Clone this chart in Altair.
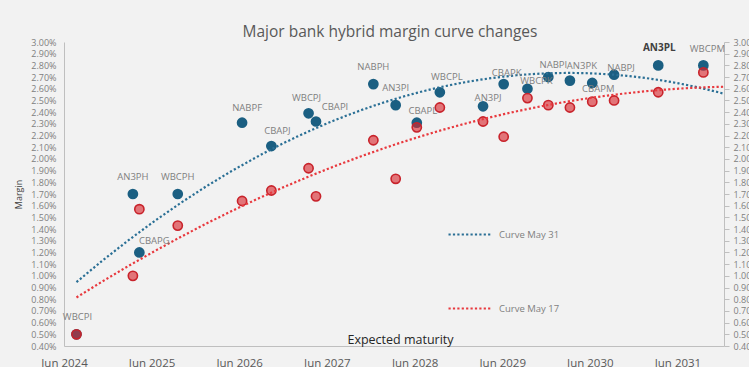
import json

import altair as alt
import pandas as pd

# Hybrid securities: ASX code, expected maturity (call) date and margin (%)
codes = ["WBCPI", "AN3PH", "CBAPG", "WBCPH", "NABPF", "CBAPJ", "WBCPJ", "CBAPI",
         "NABPH", "AN3PI", "CBAPL", "WBCPL", "AN3PJ", "CBAPK", "WBCPK", "NABPI",
         "AN3PK", "CBAPM", "NABPJ", "AN3PL", "WBCPM"]
maturity = ["2024-07-23", "2025-03-15", "2025-04-11", "2025-09-18", "2026-06-13",
            "2026-10-13", "2027-03-17", "2027-04-17", "2027-12-12", "2028-03-14",
            "2028-06-10", "2028-09-14", "2029-03-13", "2029-06-07", "2029-09-14",
            "2029-12-10", "2030-03-10", "2030-06-11", "2030-09-10", "2031-03-13",
            "2031-09-17"]
margin_may31 = [0.50, 1.70, 1.20, 1.70, 2.31, 2.11, 2.39, 2.32, 2.64, 2.46, 2.31,
                2.57, 2.45, 2.64, 2.60, 2.70, 2.67, 2.65, 2.72, 2.80, 2.80]
margin_may17 = [0.50, 1.00, 1.57, 1.43, 1.64, 1.73, 1.92, 1.68, 2.16, 1.83, 2.27,
                2.44, 2.32, 2.19, 2.52, 2.46, 2.44, 2.49, 2.50, 2.57, 2.74]

series_names = ["Curve May 31", "Curve May 17"]
x_start, x_end = "2024-06-01", "2031-12-12"
x_ticks = ["2024-06-01", "2025-06-01", "2026-06-01", "2027-06-01",
           "2028-06-01", "2029-06-01", "2030-06-01", "2031-06-01"]
y_min, y_max = 0.40, 3.00
y_ticks = [round(y_min + 0.10 * i, 2) for i in range(27)]

# label nudges in pixels (dx, dy) relative to the May 31 marker
label_nudge = {"WBCPI": (1, -17), "AN3PH": (0, -17), "CBAPG": (15, -11), "WBCPH": (0, -17),
               "NABPF": (5, -15), "CBAPJ": (6, -15), "WBCPJ": (-2, -15), "CBAPI": (19, -15),
               "NABPH": (0, -17), "AN3PI": (0, -17), "CBAPL": (6, -12), "WBCPL": (7, -15),
               "AN3PJ": (5, -8), "CBAPK": (3, -11), "WBCPK": (9, -8), "NABPI": (5, -12),
               "AN3PK": (12, -15), "CBAPM": (6, 6), "NABPJ": (7, -7), "AN3PL": (1, -17),
               "WBCPM": (4, -16)}
bold_codes = ["AN3PL"]

W, H = 660, 304
BLUE = "#1b5f82"
RED = "#d9262d"
GREY_LINE = "#bfbfbf"


def to_ms(dates):
    return (pd.to_datetime(dates).astype("int64") // 10**6).tolist()


ms = to_ms(maturity)
dom = to_ms([x_start, x_end])
tick_ms = to_ms(x_ticks)
ms_per_px = (dom[1] - dom[0]) / W
val_per_px = (y_max - y_min) / H

points = pd.DataFrame({"code": codes, "ms": ms, "may31": margin_may31, "may17": margin_may17})
points["lx"] = [m + label_nudge[c][0] * ms_per_px for m, c in zip(ms, codes)]
points["ly"] = [v - label_nudge[c][1] * val_per_px for v, c in zip(margin_may31, codes)]

long = pd.concat([
    pd.DataFrame({"ms": ms, "value": margin_may31, "series": series_names[0]}),
    pd.DataFrame({"ms": ms, "value": margin_may17, "series": series_names[1]}),
])

x_scale = alt.Scale(type="utc", domain=dom)
x_axis = alt.Axis(
    values=tick_ms,
    labelExpr="utcFormat(datum.value, '%b %Y')",
    grid=False, ticks=False, domainColor=GREY_LINE, domainWidth=1,
    labelFontSize=11.5, labelColor="#595959", labelPadding=11, labelFlush=False,
    title="Expected maturity", titleFontSize=12.5, titleColor="#262626",
    titleFontWeight="normal", titleX=336, titleY=0, titleAnchor="start",
    titleAlign="center", titleBaseline="bottom",
)
x_enc = alt.X("ms:T", scale=x_scale, axis=x_axis)
y_scale = alt.Scale(domain=[y_min, y_max], nice=False, zero=False)
left_axis = alt.Axis(
    values=y_ticks, labelExpr="format(datum.value, '.2f') + '%'",
    grid=False, ticks=False, domainColor=GREY_LINE, domainWidth=1,
    labelFontSize=9, labelColor="#808080", labelPadding=8,
    title="Margin", titleFontSize=9, titleColor="#404040", titleFontWeight="normal",
    titleX=-46, titleY=152, titleAngle=-90, titleAlign="center", titleBaseline="middle",
)
right_axis = alt.Axis(
    orient="right", values=y_ticks, labelExpr="format(datum.value, '.2f') + '%'",
    grid=False, ticks=True, tickSize=5, tickColor=GREY_LINE, domainColor=GREY_LINE,
    domainWidth=1, labelFontSize=9, labelColor="#808080", labelPadding=4, title="",
)

base = alt.Chart(points)

blue_pts = base.mark_circle(size=115, color=BLUE, opacity=1).encode(
    x=x_enc, y=alt.Y("may31:Q", scale=y_scale, axis=left_axis),
)

right = base.mark_circle(opacity=0).encode(
    x=x_enc, y=alt.Y("may31:Q", scale=y_scale, axis=right_axis),
)

red_pts = base.mark_point(
    shape="circle", filled=True, size=85, fill=RED, fillOpacity=0.62,
    stroke="#c8232b", strokeWidth=1.6, opacity=1,
).encode(x=x_enc, y=alt.Y("may17:Q", scale=y_scale, axis=None))

# polynomial (order 2) trend curves fitted to each day's margins
curves = alt.Chart(long).transform_regression(
    "ms", "value", method="poly", order=2, groupby=["series"], extent=[ms[0], dom[1]],
).mark_line(strokeDash=[2.2, 2.2], strokeWidth=2.2, clip=True).encode(
    x=x_enc,
    y=alt.Y("value:Q", scale=y_scale, axis=None),
    color=alt.Color(
        "series:N",
        scale=alt.Scale(domain=series_names, range=["#2a6f95", "#e8393e"]),
        sort=series_names,
        legend=alt.Legend(
            title=None, orient="none", legendX=383, legendY=170, padding=0,
            symbolType="stroke", symbolSize=1764, symbolStrokeWidth=2.2,
            symbolDash=[2.2, 2.2], symbolOffset=0, labelFontSize=9.5,
            labelColor="#7f7f7f", labelOffset=7, rowPadding=47,
        ),
    ),
)


def label_layer(bold):
    test = f"indexof({json.dumps(bold_codes)}, datum.code) {'>=' if bold else '<'} 0"
    return base.transform_filter(test).mark_text(
        fontSize=10 if bold else 9.5,
        fontWeight="bold" if bold else "normal",
        color="#404040" if bold else "#7f7f7f",
        align="center", baseline="middle",
    ).encode(
        x=alt.X("lx:T", scale=x_scale, axis=x_axis),
        y=alt.Y("ly:Q", scale=y_scale, axis=None),
        text="code:N",
    )


labels = label_layer(False)
labels_bold = label_layer(True)

chart = alt.layer(
    blue_pts, right, red_pts, curves, labels, labels_bold,
).resolve_axis(y="independent").properties(
    width=W, height=H,
    autosize=alt.AutoSizeParams(type="none"),
    padding={"left": 64, "top": 42, "right": 25, "bottom": 21},
    background="#f2f2f2",
    title=alt.TitleParams(
        "Major bank hybrid margin curve changes", fontSize=15.5, color="#595959",
        fontWeight="normal", anchor="middle", frame="group", offset=-2, dx=-4,
    ),
).configure(font="Open Sans").configure_view(strokeWidth=0)

chart.save("out.html", embed_options={"renderer": "svg", "actions": False})
